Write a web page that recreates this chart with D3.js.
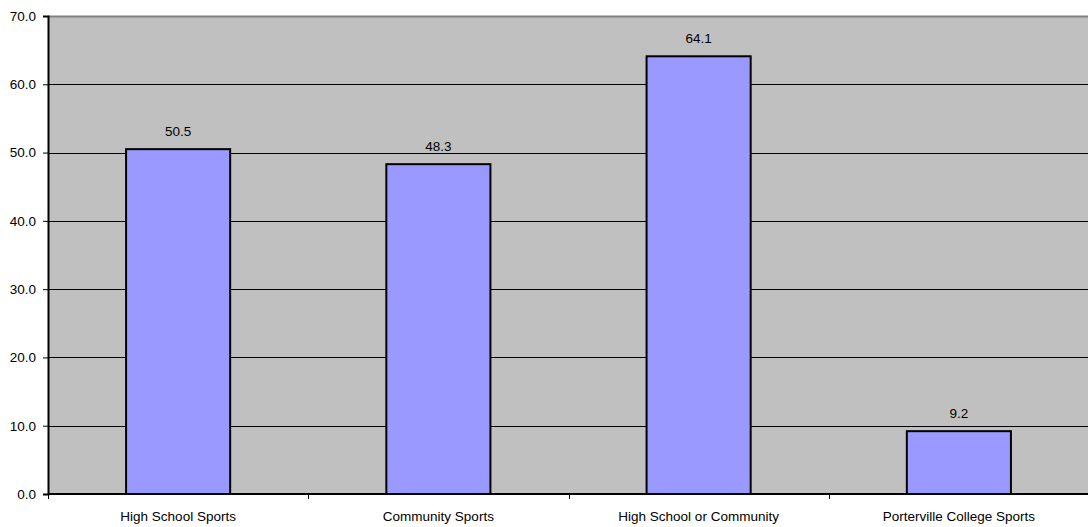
<!DOCTYPE html>
<html><head><meta charset="utf-8">
<script src="https://cdn.jsdelivr.net/npm/d3@7"></script>
<style>body{margin:0;background:#fff;} svg{display:block;} text{font-family:"Liberation Sans",Arial,sans-serif;}</style>
</head><body><svg id="c" width="1088" height="527"></svg>
<script>
const categories = ["High School Sports","Community Sports","High School or Community","Porterville College Sports"];
const values = [50.5, 48.3, 64.1, 9.2];
const yTicks = [0,10,20,30,40,50,60,70];

const FS = 13.5;
const svg = d3.select("#c");
const L = 48, R = 1089, T = 16, B = 494;
const x = d3.scaleBand().domain(categories).range([L, R]).paddingInner(0.6).paddingOuter(0.3);
const xb = d3.scaleBand().domain(categories).range([L, R]);
const y = d3.scaleLinear().domain([0,70]).range([B, T]);

svg.append("rect").attr("x",L).attr("y",T).attr("width",R-L).attr("height",B-T).attr("fill","#C0C0C0");
svg.append("line").attr("x1",L).attr("x2",R).attr("y1",T+0.5).attr("y2",T+0.5).attr("stroke","#808080").attr("stroke-width",2);

svg.selectAll("line.grid").data(yTicks.filter(d=>d>0&&d<70)).enter().append("line")
  .attr("x1",L).attr("x2",R).attr("y1",d=>Math.round(y(d))+0.5).attr("y2",d=>Math.round(y(d))+0.5)
  .attr("stroke","#000").attr("stroke-width",1);

svg.selectAll("rect.bar").data(values).enter().append("rect")
  .attr("x",(d,i)=>x(categories[i])).attr("width",x.bandwidth())
  .attr("y",d=>y(d)).attr("height",d=>B-y(d))
  .attr("fill","#9999FF").attr("stroke","#000").attr("stroke-width",2);

svg.selectAll("text.val").data(values).enter().append("text")
  .attr("x",(d,i)=>x(categories[i])+x.bandwidth()/2).attr("y",d=>y(d)-13)
  .attr("text-anchor","middle").attr("font-size",FS).attr("fill","#000")
  .text(d=>d.toFixed(1));

// y axis
const ya = svg.append("g").attr("transform",`translate(${L},0)`)
  .call(d3.axisLeft(y).tickValues(yTicks).tickFormat(d3.format(".1f")).tickSize(5).tickPadding(7));
ya.select(".domain").attr("stroke","#000").attr("stroke-width",2);
ya.selectAll("text").attr("font-size",FS).attr("fill","#000").style("font-family",'"Liberation Sans",Arial,sans-serif');
ya.selectAll("line").attr("stroke","#000");

// x axis
const xa = svg.append("g").attr("transform",`translate(0,${B})`);
xa.append("line").attr("x1",L).attr("x2",R).attr("y1",0).attr("y2",0).attr("stroke","#000").attr("stroke-width",2);
const bounds = categories.map(c=>xb(c)).concat([R]);
xa.selectAll("line.tk").data(bounds).enter().append("line")
  .attr("x1",d=>Math.round(d)+0.5).attr("x2",d=>Math.round(d)+0.5).attr("y1",0).attr("y2",5).attr("stroke","#000");
xa.selectAll("text").data(categories).enter().append("text")
  .attr("x",d=>xb(d)+xb.bandwidth()/2).attr("y",27).attr("text-anchor","middle")
  .attr("font-size",FS).attr("fill","#000").text(d=>d);
</script></body></html>
